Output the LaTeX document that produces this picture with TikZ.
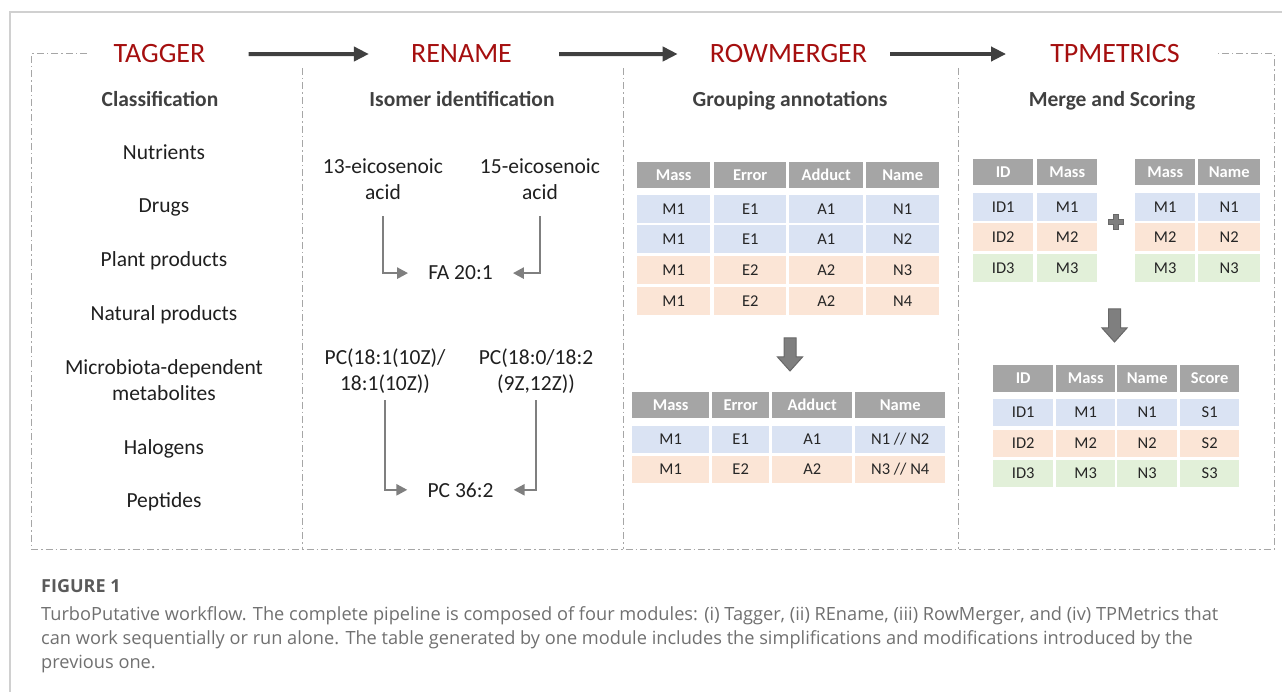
\documentclass[tikz,border=0pt]{standalone}
\usepackage{fontspec}
\setmainfont{Carlito}
\newfontfamily\capfont{Open Sans}
\usetikzlibrary{arrows.meta}
\definecolor{titlered}{HTML}{A50F0F}
\definecolor{subgray}{HTML}{404040}
\definecolor{flowgray}{HTML}{404040}
\definecolor{arrowgray}{HTML}{7F7F7F}
\definecolor{edgegray}{HTML}{686868}
\definecolor{framegray}{HTML}{A6A6A6}
\definecolor{pagegray}{HTML}{D0D0D0}
\definecolor{hdrgray}{HTML}{A5A5A5}
\definecolor{rowblue}{HTML}{DAE3F3}
\definecolor{roworange}{HTML}{FBE5D6}
\definecolor{rowgreen}{HTML}{E2F0D9}
\definecolor{cellblack}{HTML}{262626}
\definecolor{capgray}{HTML}{5A5A5A}
\definecolor{captext}{HTML}{707070}
\tikzset{
  modtitle/.style={font=\fontsize{28}{34}\selectfont, text=titlered, inner sep=0pt, anchor=base},
  subtitle/.style={font=\bfseries\fontsize{21.5}{26}\selectfont, text=subgray, inner sep=0pt, anchor=base},
  tagitem/.style={font=\fontsize{21.5}{26}\selectfont, text=black!88, inner sep=0pt, anchor=base, align=center},
  flow/.style={draw=flowgray, line width=4pt, -{Triangle[length=15pt,width=14pt]}},
  isoarrow/.style={draw=arrowgray, line width=2.5pt, -{Triangle[length=11pt,width=11pt]}},
  modframe/.style={draw=framegray, line width=1pt, dash pattern=on 7pt off 3pt on 1.5pt off 3pt},
  hdr/.style={fill=hdrgray, text=white, font=\bfseries\fontsize{16.5}{20}\selectfont, anchor=north west,
    inner sep=0pt, minimum height=26pt, text height=10.5pt, text depth=0pt},
  cell/.style={text=cellblack, font=\fontsize{16.5}{20}\selectfont, anchor=north west,
    inner sep=0pt, minimum height=28pt, text height=10.5pt, text depth=0pt},
  bigarrow/.style={fill=arrowgray, draw=edgegray, line width=1pt},
}
\begin{document}
\begin{tikzpicture}[x=1pt, y=-1pt]
\useasboundingbox (0,0) rectangle (1282,692);
% Page frame
\draw[pagegray, line width=1.5pt] (1282,12) -- (10,12) -- (10,692);
% Dash-dot frame and column dividers
\draw[modframe] (87,54) -- (31,54) -- (31,549) -- (1274,549) -- (1274,54) -- (1218,54);
\foreach \x in {302, 623, 958}
  \draw[modframe] (\x,68) -- (\x,549);
% Module titles
\node[modtitle] (tagger) at (159.5,63) {TAGGER};
\node[modtitle] (rename) at (461.5,63) {RENAME};
\node[modtitle] (rowmerger) at (788.5,63) {ROWMERGER};
\node[modtitle] (tpmetrics) at (1115,63) {TPMETRICS};
\draw[flow, shorten <=43, shorten >=42] (tagger) -- (rename);
\draw[flow, shorten <=47, shorten >=32] (rename) -- (rowmerger);
\draw[flow, shorten <=23, shorten >=44] (rowmerger) -- (tpmetrics);
% Subheadings
\node[subtitle] (classif) at (160,107) {Classification};
\node[subtitle] (isomer) at (462,107) {Isomer identification};
\node[subtitle] (grouping) at (790,107) {Grouping annotations};
\node[subtitle] (scoring) at (1112,107) {Merge and Scoring};
% Tagger: classes (base = last line)
\foreach \y/\t [count=\i] in {160/Nutrients, 213/Drugs, 267/Plant products, 321/Natural products,
    400/{Microbiota-dependent\\metabolites}, 454/Halogens, 507/Peptides}
  \node[tagitem] (tag\i) at (164,\y) {\t};
% Rename: isomers
\node[tagitem] (eicA) at (383,200) {13-eicosenoic\\acid};
\node[tagitem] (eicB) at (540,200) {15-eicosenoic\\acid};
\node[tagitem] (fa) at (460.5,280) {FA 20:1};
\node[tagitem] (pcA) at (385,391) {PC(18:1(10Z)/\\18:1(10Z))};
\node[tagitem] (pcB) at (536,391) {PC(18:0/18:2\\(9Z,12Z))};
\node[tagitem] (pc) at (460.5,497) {PC 36:2};
\draw[isoarrow, shorten <=16, shorten >=20] (eicA) |- (fa);
\draw[isoarrow, shorten <=16, shorten >=20] (eicB) |- (fa);
\draw[isoarrow, shorten <=6, shorten >=20] (pcA) |- (pc);
\draw[isoarrow, shorten <=6, shorten >=20] (pcB) |- (pc);
% RowMerger: table before grouping
\foreach \x/\w/\t [count=\i] in {637/73/Mass, 714/72/Error, 789/74/Adduct, 866/73/Name}
  \node[hdr, minimum width=\w] (rmh\i) at (\x,162) {\t};
\foreach \y/\f/\ta/\tb/\tc/\td [count=\j] in {195/rowblue/M1/E1/A1/N1, 225/rowblue/M1/E1/A1/N2,
    256/roworange/M1/E2/A2/N3, 287/roworange/M1/E2/A2/N4} {
  \node[cell, fill=\f, minimum width=73] (rm\j a) at (637,\y) {\ta};
  \node[cell, fill=\f, minimum width=72] (rm\j b) at (714,\y) {\tb};
  \node[cell, fill=\f, minimum width=74] (rm\j c) at (789,\y) {\tc};
  \node[cell, fill=\f, minimum width=73] (rm\j d) at (866,\y) {\td};
}
\draw[bigarrow, shift={(790,338)}] (-6,0) -- (6,0) -- (6,19) -- (12.5,19) -- (0,33) -- (-12.5,19) -- (-6,19) -- cycle;
% RowMerger: grouped table
\foreach \x/\w/\t [count=\i] in {632/77/Mass, 712/57/Error, 772/80/Adduct, 855/90/Name}
  \node[hdr, minimum width=\w] (gmh\i) at (\x,392) {\t};
\foreach \y/\f/\ta/\tb/\tc/\td [count=\j] in {426/rowblue/M1/E1/A1/{N1 // N2}, 456/roworange/M1/E2/A2/{N3 // N4}} {
  \node[cell, fill=\f, minimum width=77, minimum height=27] (gm\j a) at (632,\y) {\ta};
  \node[cell, fill=\f, minimum width=57, minimum height=27] (gm\j b) at (712,\y) {\tb};
  \node[cell, fill=\f, minimum width=80, minimum height=27] (gm\j c) at (772,\y) {\tc};
  \node[cell, fill=\f, minimum width=90, minimum height=27] (gm\j d) at (855,\y) {\td};
}
% TPMetrics: input tables
\foreach \x/\w/\t [count=\i] in {973/60/ID, 1037/60/Mass, 1135/60/Mass, 1198/62/Name}
  \node[hdr, minimum width=\w] (tph\i) at (\x,159) {\t};
\foreach \y/\f/\n [count=\j] in {193/rowblue/1, 223/roworange/2, 254/rowgreen/3} {
  \node[cell, fill=\f, minimum width=60] (tpa\j) at (973,\y) {ID\n};
  \node[cell, fill=\f, minimum width=60] (tpb\j) at (1037,\y) {M\n};
  \node[cell, fill=\f, minimum width=60] (tpc\j) at (1135,\y) {M\n};
  \node[cell, fill=\f, minimum width=62] (tpd\j) at (1198,\y) {N\n};
}
\draw[bigarrow, shift={(1116,222)}] (-2.5,-7.5) -- (2.5,-7.5) -- (2.5,-2.5) -- (7.5,-2.5) -- (7.5,2.5) -- (2.5,2.5)
  -- (2.5,7.5) -- (-2.5,7.5) -- (-2.5,2.5) -- (-7.5,2.5) -- (-7.5,-2.5) -- (-2.5,-2.5) -- cycle;
\draw[bigarrow, shift={(1114.5,309)}] (-6,0) -- (6,0) -- (6,19) -- (12.5,19) -- (0,33) -- (-12.5,19) -- (-6,19) -- cycle;
% TPMetrics: scored table
\foreach \x/\w/\t [count=\i] in {993/60/ID, 1056/59/Mass, 1117/60/Name, 1180/59/Score}
  \node[hdr, minimum width=\w, minimum height=27] (sch\i) at (\x,365) {\t};
\foreach \y/\f/\n [count=\j] in {399/rowblue/1, 430/roworange/2, 460/rowgreen/3} {
  \node[cell, fill=\f, minimum width=60, minimum height=27] (sca\j) at (993,\y) {ID\n};
  \node[cell, fill=\f, minimum width=59, minimum height=27] (scb\j) at (1056,\y) {M\n};
  \node[cell, fill=\f, minimum width=60, minimum height=27] (scc\j) at (1117,\y) {N\n};
  \node[cell, fill=\f, minimum width=59, minimum height=27] (scd\j) at (1180,\y) {S\n};
}
% Caption (base = last line)
\node[anchor=base west, inner sep=0pt, text=capgray, font=\capfont\bfseries\fontsize{18}{24}\selectfont] (figlabel) at (41,592) {FIGURE 1};
\node[anchor=base west, inner sep=0pt, align=left, text=captext, font=\capfont\fontsize{18.2}{24}\selectfont] (figcaption) at (41,668)
  {TurboPutative workflow. The complete pipeline is composed of four modules: (i) Tagger, (ii) REname, (iii) RowMerger, and (iv) TPMetrics that\\
   can work sequentially or run alone. The table generated by one module includes the simplifications and modifications introduced by the\\
   previous one.};
\end{tikzpicture}
\end{document}
